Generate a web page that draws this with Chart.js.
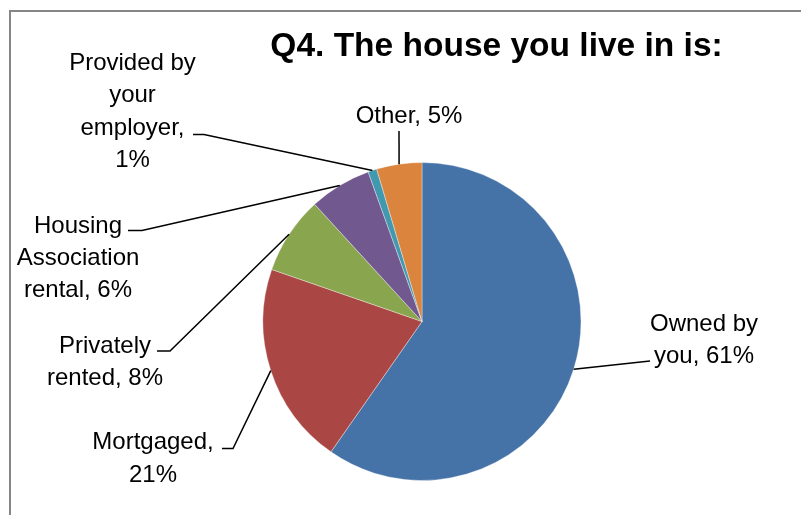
<!DOCTYPE html>
<html>
<head>
<meta charset="utf-8">
<script src="https://cdn.jsdelivr.net/npm/chart.js@4/dist/chart.umd.min.js"></script>
<style>
  html, body { margin: 0; padding: 0; background: #fff; }
  #wrap { position: relative; width: 801px; height: 515px; overflow: hidden; }
</style>
</head>
<body>
<div id="wrap"><canvas id="myChart" width="801" height="515"></canvas></div>
<script>
const ctx = document.getElementById('myChart');

// data (clockwise from 12 o'clock)
const categorias = ["Owned by you", "Mortgaged", "Privately rented", "Housing Association rental", "Provided by your employer", "Other"];
const valores = [59.7, 20.6, 7.9, 6.3, 0.9, 4.6];
const etiquetas = ["61%", "21%", "8%", "6%", "1%", "5%"];
const colores = ["#4572A7", "#AA4643", "#89A54E", "#71588F", "#4198AF", "#DB843D"];
const titulo = "Q4. The house you live in is:";

// how each data label is wrapped and where it sits
const textos = [
  ["Owned by", "you, " + etiquetas[0]],
  ["Mortgaged,", etiquetas[1]],
  ["Privately", "rented, " + etiquetas[2]],
  ["Housing", "Association", "rental, " + etiquetas[3]],
  ["Provided by", "your", "employer,", etiquetas[4]],
  ["Other, " + etiquetas[5]]
];
const posiciones = [
  { x: 704, y: 331, gap: 32, leader: [[650, 361]] },
  { x: 153, y: 449, gap: 32.5, leader: [[222, 448.5], [233, 448.5]] },
  { x: 105, y: 352.5, gap: 32.5, leader: [[157, 351], [170, 351]] },
  { x: 78, y: 233, gap: 32, leader: [[128, 230.5], [142, 230.5]] },
  { x: 132.5, y: 70, gap: 32.3, leader: [[193, 134.5], [204, 134.5]] },
  { x: 409, y: 123, gap: 32, leader: [[399, 131]] }
];

const etiquetasPlugin = {
  id: 'etiquetas',
  beforeDraw(chart) {
    const c = chart.ctx;
    c.save();
    c.fillStyle = '#fff';
    c.fillRect(0, 0, chart.width, chart.height);
    c.strokeStyle = '#868686';
    c.lineWidth = 2;
    c.strokeRect(10, 11, chart.width + 20, chart.height + 20);
    c.restore();
  },
  afterDraw(chart) {
    const c = chart.ctx;
    const arcs = chart.getDatasetMeta(0).data;
    c.save();
    // title
    c.fillStyle = '#000';
    c.font = 'bold 33.5px "Liberation Sans", Arial, sans-serif';
    c.textAlign = 'center';
    c.textBaseline = 'alphabetic';
    c.fillText(titulo, 496.5, 55.5);

    c.font = '24px "Liberation Sans", Arial, sans-serif';
    arcs.forEach((arc, i) => {
      const p = posiciones[i];
      const mid = (arc.startAngle + arc.endAngle) / 2;
      const ax = arc.x + Math.cos(mid) * arc.outerRadius;
      const ay = arc.y + Math.sin(mid) * arc.outerRadius;
      // leader line
      c.strokeStyle = '#000';
      c.lineWidth = 1.5;
      c.beginPath();
      c.moveTo(p.leader[0][0], p.leader[0][1]);
      p.leader.slice(1).forEach(pt => c.lineTo(pt[0], pt[1]));
      c.lineTo(ax, ay);
      c.stroke();
      // text
      c.fillStyle = '#000';
      textos[i].forEach((t, j) => c.fillText(t, p.x, p.y + j * p.gap));
    });
    c.restore();
  }
};

const grafico = new Chart(ctx, {
  type: 'pie',
  data: {
    labels: categorias,
    datasets: [{
      data: valores,
      backgroundColor: colores,
      borderColor: 'rgba(255,255,255,0.6)',
      borderWidth: 0.6
    }]
  },
  options: {
    responsive: false,
    animation: false,
    radius: 159,
    layout: { padding: { left: 263, right: 220, top: 162.5, bottom: 34.5 } },
    plugins: {
      legend: { display: false },
      tooltip: { enabled: false }
    }
  },
  plugins: [etiquetasPlugin]
});
</script>
</body>
</html>
